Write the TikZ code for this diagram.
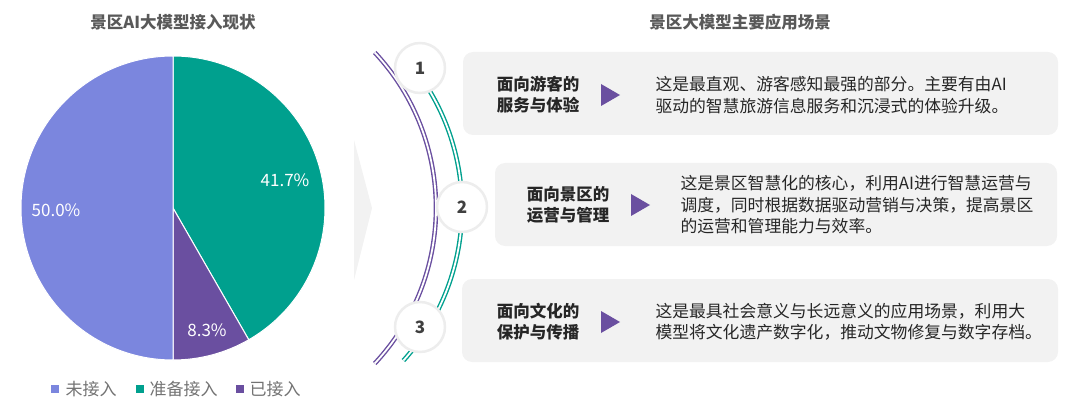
\documentclass[tikz,border=0pt]{standalone}
\usepackage{fontspec}
\setmainfont{Noto Sans CJK SC}
\begin{document}
\begin{tikzpicture}[x=1pt,y=-1pt,
 ttl/.style={font=\fontsize{16.5}{20}\selectfont\bfseries,text=black!65},
 lbl/.style={font=\fontsize{17}{20}\selectfont,text=white},
 leg/.style={font=\fontsize{17}{20}\selectfont,text=black!55,anchor=west},
 box/.style={fill=black!5,rounded corners=10pt,draw=none},
 bt/.style={font=\fontsize{16.5}{21}\selectfont\bfseries,text=black!85,align=center},
 desc/.style={font=\fontsize{16.8}{21.5}\selectfont,text=black!85,align=left,anchor=west},
 num/.style={circle,fill=white,draw=black!7,line width=2.5pt,minimum size=50pt,font=\fontsize{17}{20}\selectfont\bfseries,text=black!75},
 tri/.style={fill=tri,draw=none}]
\definecolor{cblue}{HTML}{7B86DE}
\definecolor{cteal}{HTML}{00A08E}
\definecolor{cpurp}{HTML}{6A4FA0}
\colorlet{tri}{cpurp}
\useasboundingbox (0,0) rectangle (1080,417);
\node[ttl] (t1) at (173,22) {景区AI大模型接入现状};
\node[ttl] (t2) at (740,22) {景区大模型主要应用场景};
\coordinate (c) at (173,208);
\fill[cteal,draw=white,line width=1pt] (c) -- ++(0,-152) arc[start angle=-90,end angle=60.1,radius=152] -- cycle;
\fill[cpurp,draw=white,line width=1pt] (c) -- ++(60.1:152) arc[start angle=60.1,end angle=90,radius=152] -- cycle;
\fill[cblue,draw=white,line width=1pt] (c) -- ++(90:152) arc[start angle=90,end angle=270,radius=152] -- cycle;
\node[lbl] (p1) at (285,180) {41.7\%};
\node[lbl] (p2) at (56,210) {50.0\%};
\node[lbl] (p3) at (207,330) {8.3\%};
\fill[cblue] (51,385) rectangle (59,393); \node[leg] (l1) at (62,389) {未接入};
\fill[cteal] (136,385) rectangle (144,393); \node[leg] (l2) at (146,389) {准备接入};
\fill[cpurp] (236,385) rectangle (244,393); \node[leg] (l3) at (246,389) {已接入};
\fill[black!5] (354,140) -- (372,208) -- (354,280) -- cycle;
\draw[cpurp,double=white,double distance=1.8pt,line width=1.4pt] (208,208) ++(-43:228) arc[start angle=-43,end angle=43,radius=228];
\draw[cteal,double=white,double distance=1.8pt,line width=1.4pt] (234,208) ++(-42:228) arc[start angle=-42,end angle=42,radius=228];
\node[num] (n1) at (420,68) {1};
\node[num] (n2) at (462,207) {2};
\node[num] (n3) at (420,327) {3};
\fill[box] (463,52) rectangle (1058,135);
\fill[box] (495,163) rectangle (1057,246);
\fill[box] (462,279) rectangle (1058,362);
\node[bt] (b1) at (538,95) {面向游客的\\服务与体验};
\fill[tri] (601,84) -- (620,95) -- (601,106) -- cycle;
\node[desc] (d1) at (652,95) {这是最直观、游客感知最强的部分。主要有由AI\\驱动的智慧旅游信息服务和沉浸式的体验升级。};
\node[bt] (b2) at (568,205) {面向景区的\\运营与管理};
\fill[tri] (631,194) -- (650,205) -- (631,216) -- cycle;
\node[desc] (d2) at (677,205) {这是景区智慧化的核心，利用AI进行智慧运营与\\调度，同时根据数据驱动营销与决策，提高景区\\的运营和管理能力与效率。};
\node[bt] (b3) at (538,322) {面向文化的\\保护与传播};
\fill[tri] (601,311) -- (620,322) -- (601,333) -- cycle;
\node[desc] (d3) at (652,322) {这是最具社会意义与长远意义的应用场景，利用大\\模型将文化遗产数字化，推动文物修复与数字存档。};
\end{tikzpicture}
\end{document}
